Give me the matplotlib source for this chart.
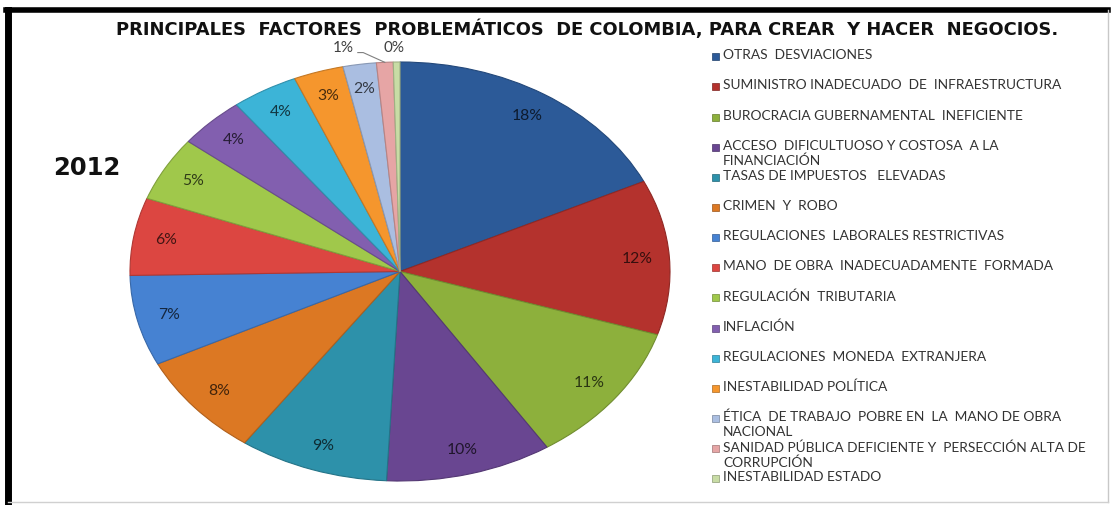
import matplotlib
matplotlib.use("Agg")
import matplotlib.pyplot as plt
import numpy as np
from matplotlib.colors import to_rgb

title = "PRINCIPALES  FACTORES  PROBLEMÁTICOS  DE COLOMBIA, PARA CREAR  Y HACER  NEGOCIOS."
year_label = "2012"

categories = [
    "OTRAS  DESVIACIONES",
    "SUMINISTRO INADECUADO  DE  INFRAESTRUCTURA",
    "BUROCRACIA GUBERNAMENTAL  INEFICIENTE",
    "ACCESO  DIFICULTUOSO Y COSTOSA  A LA\nFINANCIACIÓN",
    "TASAS DE IMPUESTOS   ELEVADAS",
    "CRIMEN  Y  ROBO",
    "REGULACIONES  LABORALES RESTRICTIVAS",
    "MANO  DE OBRA  INADECUADAMENTE  FORMADA",
    "REGULACIÓN  TRIBUTARIA",
    "INFLACIÓN",
    "REGULACIONES  MONEDA  EXTRANJERA",
    "INESTABILIDAD POLÍTICA",
    "ÉTICA  DE TRABAJO  POBRE EN  LA  MANO DE OBRA\nNACIONAL",
    "SANIDAD PÚBLICA DEFICIENTE Y  PERSECCIÓN ALTA DE\nCORRUPCIÓN",
    "INESTABILIDAD ESTADO",
]
values = [18, 12, 11, 10, 9, 8, 7, 6, 5, 4, 4, 3, 2, 1, 0.4]
pct_labels = ["18%", "12%", "11%", "10%", "9%", "8%", "7%", "6%", "5%",
              "4%", "4%", "3%", "2%", "1%", "0%"]
colors = ["#2C5A98", "#B4322D", "#8DB03C", "#694691", "#2D91AA", "#DC7823",
          "#4682D2", "#DC4641", "#A0C84B", "#825FAF", "#3CB4D7", "#F5962D",
          "#AABEE1", "#E6A5A5", "#C8DCA5"]

W, H = 1111, 505
fig = plt.figure(figsize=(W / 100, H / 100), dpi=100)
fig.patch.set_facecolor("white")

# pie axes (stretched ellipse like the reference)
px0, px1, py0, py1 = 130, 670, 62, 481
ax = fig.add_axes([px0 / W, 1 - py1 / H, (px1 - px0) / W, (py1 - py0) / H])
edge_cols = [tuple(c * 0.8 for c in to_rgb(col)) for col in colors]
wedges, _ = ax.pie(values, colors=colors, startangle=90, counterclock=False,
                   radius=1.0, wedgeprops=dict(linewidth=0.8))
for w, ec in zip(wedges, edge_cols):
    w.set_edgecolor(ec)
ax.set_aspect("auto")
ax.set_xlim(-1, 1)
ax.set_ylim(-1, 1)
ax.axis("off")

# percentage labels
total = sum(values)
cum = 0
for i, (v, lab, col) in enumerate(zip(values, pct_labels, colors)):
    mid = 90 - 360 * (cum + v / 2) / total
    cum += v
    tcol = tuple(c * 0.3 for c in to_rgb(col))
    th = np.deg2rad(mid)
    xs, ys = np.cos(th), np.sin(th)
    if i < 13:
        r = 0.88
        ax.text(r * xs, r * ys, lab, ha="center", va="center",
                fontsize=11.3, color=tcol, family="Lato")
    elif i == 13:
        ax.plot([xs - 0.10, xs - 0.08, xs], [1.045, 1.045, ys], color="#808080",
                lw=0.8, clip_on=False)
        ax.text(xs - 0.155, 1.067, lab, ha="center", va="center",
                fontsize=11, color="#404040", family="Lato")
    else:
        ax.text(xs - 0.01, 1.067, lab, ha="center", va="center",
                fontsize=11, color="#404040", family="Lato")

# title and year
fig.text(587 / W, 1 - 29 / H, title, ha="center", va="center", fontsize=12.9,
         fontweight="bold", family="DejaVu Sans", color="#111111")
fig.text(87 / W, 1 - 168 / H, year_label, ha="center", va="center", fontsize=17.5,
         fontweight="bold", family="DejaVu Sans", color="#111111")

# legend (manual, Excel style)
for i, (lab, col) in enumerate(zip(categories, colors)):
    y = 56.7 + 30.15 * i
    fig.patches.append(plt.Rectangle((712 / W, 1 - (y + 3.5) / H), 7 / W, 7 / H,
                                     transform=fig.transFigure, facecolor=col,
                                     edgecolor=tuple(c * 0.7 for c in to_rgb(col)),
                                     lw=0.5))
    fig.text(723 / W, 1 - (y - 7.5) / H, lab, ha="left", va="top", fontsize=9.9,
             family="Lato", color="#333333", linespacing=1.3)

# frame
fig.add_artist(plt.Line2D([8 / W, 8 / W], [1 - 10 / H, 0], color="black", lw=5,
                          transform=fig.transFigure))
fig.add_artist(plt.Line2D([6 / W, 1108 / W], [1 - 10 / H, 1 - 10 / H], color="black",
                          lw=4, transform=fig.transFigure))
fig.add_artist(plt.Line2D([1108 / W, 1108 / W], [1 - 10 / H, 1 - 502 / H],
                          color="#c8c8c8", lw=1, transform=fig.transFigure))
fig.add_artist(plt.Line2D([8 / W, 1108 / W], [1 - 502 / H, 1 - 502 / H],
                          color="#d0d0d0", lw=1, transform=fig.transFigure))

fig.savefig("out.png", dpi=100)
